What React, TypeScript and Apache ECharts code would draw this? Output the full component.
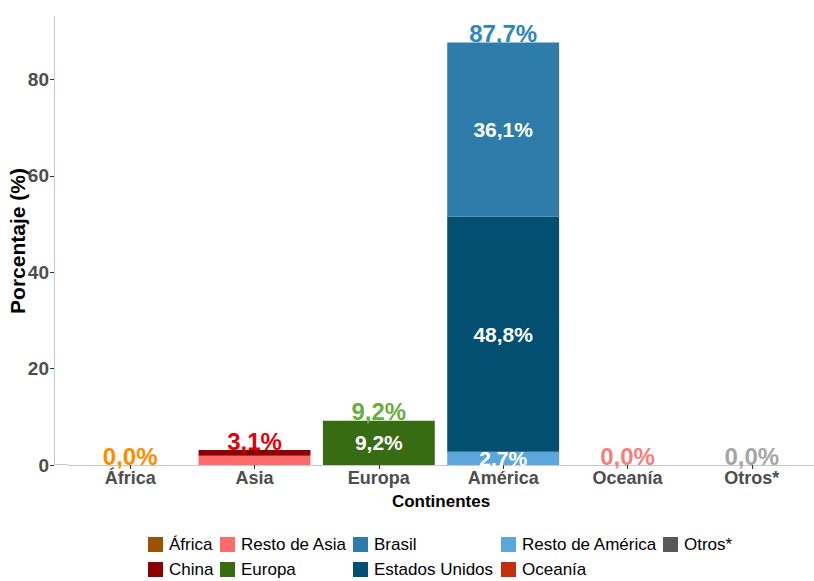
import React, { useEffect, useRef } from "react";
import * as echarts from "echarts";

const categories = ["África", "Asia", "Europa", "América", "Oceanía", "Otros*"];

// Segment values (%), one array per legend group
const africa = [0, null, null, null, null, null];
const restoAsia = [null, 1.9, null, null, null, null];
const china = [null, 1.2, null, null, null, null];
const europa = [null, null, 9.2, null, null, null];
const restoAmerica = [null, null, null, 2.74, null, null];
const estadosUnidos = [null, null, null, 48.83, null, null];
const brasil = [null, null, null, 36.13, null, null];
const oceania = [null, null, null, null, 0, null];
const otros = [null, null, null, null, null, 0];

const yTicks = [0, 20, 40, 60, 80];

const seriesDefs = [
  { name: "África", data: africa, color: "#9C5200" },
  { name: "Resto de Asia", data: restoAsia, color: "#FF6B6B" },
  { name: "China", data: china, color: "#8B0000" },
  { name: "Europa", data: europa, color: "#386C13" },
  { name: "Resto de América", data: restoAmerica, color: "#5BA7DC" },
  { name: "Estados Unidos", data: estadosUnidos, color: "#024F72" },
  { name: "Brasil", data: brasil, color: "#2D7CAA" },
  { name: "Oceanía", data: oceania, color: "#C1300A" },
  { name: "Otros*", data: otros, color: "#595959" },
];

const totalColors = ["#FF8C00", "#E5000A", "#6AAE3F", "#2E86C1", "#F28080", "#A6A6A6"];

// Legend laid out in columns (as in the reference): [name, left, row]
const legendItems: [string, number, number][] = [
  ["África", 148, 0],
  ["China", 148, 1],
  ["Resto de Asia", 220, 0],
  ["Europa", 220, 1],
  ["Brasil", 353, 0],
  ["Estados Unidos", 353, 1],
  ["Resto de América", 501, 0],
  ["Oceanía", 501, 1],
  ["Otros*", 663, 0],
];
const legendRowTops = [536, 561];

const FB = "'Liberation Sans', Arial, sans-serif";

const fmt = (v: number) => v.toFixed(1).replace(".", ",") + "%";

export default function App() {
  const ref = useRef<HTMLDivElement>(null);
  useEffect(() => {
    if (!ref.current) return;
    const chart = echarts.init(ref.current, undefined, { renderer: "svg" });
    const totals = categories.map((_, i) =>
      seriesDefs.reduce((s, d) => s + (d.data[i] == null ? 0 : (d.data[i] as number)), 0)
    );
    const series: any[] = seriesDefs.map((d) => ({
      name: d.name,
      type: "bar",
      stack: "a",
      barWidth: "90%",
      data: d.data,
      itemStyle: { color: d.color },
      label: {
        show: true,
        position: "inside",
        color: "#FFFFFF",
        fontFamily: FB,
        fontWeight: "bold",
        fontSize: 21,
        formatter: (p: any) => (p.value != null && p.value >= 2 ? fmt(p.value) : ""),
      },
    }));
    series.push({
      name: "Total",
      type: "bar",
      barWidth: "90%",
      barGap: "-100%",
      data: totals.map((v, i) => ({
        value: v,
        label: { color: totalColors[i] },
      })),
      itemStyle: { color: "rgba(0,0,0,0)" },
      silent: true,
      z: 5,
      label: {
        show: true,
        position: "top",
        distance: -3,
        fontFamily: FB,
        fontWeight: "bold",
        fontSize: 24,
        formatter: (p: any) => fmt(p.value),
      },
    });

    chart.setOption({
      animation: false,
      backgroundColor: "#FFFFFF",
      grid: { left: 68, right: 0, top: 17, bottom: 116, containLabel: false, outerBoundsMode: "none" },
      xAxis: {
        type: "category",
        data: categories,
        name: "Continentes",
        nameLocation: "middle",
        nameGap: 28,
        nameMoveOverlap: false,
        nameTextStyle: { fontFamily: FB, fontWeight: "bold", fontSize: 17, color: "#000000" },
        axisLine: { show: true, lineStyle: { color: "#C8C8C8", width: 1 } },
        axisTick: { show: true, alignWithLabel: true, length: 4, lineStyle: { color: "#333333" } },
        axisLabel: { fontFamily: FB, fontWeight: "bold", fontSize: 18, color: "#4D4D4D", margin: 4 },
        splitLine: { show: false },
      },
      yAxis: {
        type: "value",
        min: 0,
        max: 93,
        interval: 20,
        offset: 14,
        name: "Porcentaje (%)",
        nameLocation: "middle",
        nameGap: 26,
        nameMoveOverlap: false,
        nameTextStyle: { fontFamily: FB, fontWeight: "bold", fontSize: 21, color: "#000000" },
        axisLine: { show: true, lineStyle: { color: "#C8C8C8", width: 1 } },
        axisTick: { show: true, length: 4, lineStyle: { color: "#333333" }, customValues: yTicks },
        axisLabel: {
          fontFamily: FB,
          fontWeight: "bold",
          fontSize: 19,
          color: "#4D4D4D",
          margin: 5,
          customValues: yTicks,
        },
        splitLine: { show: false },
      },
      legend: legendItems.map(([name, left, row]) => ({
        orient: "horizontal",
        left,
        top: legendRowTops[row],
        padding: 0,
        itemWidth: 15,
        itemHeight: 15,
        icon: "rect",
        selectedMode: false,
        data: [name],
        textStyle: { fontFamily: FB, fontSize: 17, color: "#000000", padding: [0, 0, 0, 1] },
      })),
      graphic: [
        {
          type: "line",
          shape: { x1: 54, y1: 464.5, x2: 68, y2: 464.5 },
          style: { stroke: "#C8C8C8", lineWidth: 1 },
        },
      ],
      series,
    });
    return () => chart.dispose();
  }, []);
  return (
    <div
      ref={ref}
      style={{ position: "absolute", left: 0, top: 0, width: 814, height: 581 }}
    />
  );
}
